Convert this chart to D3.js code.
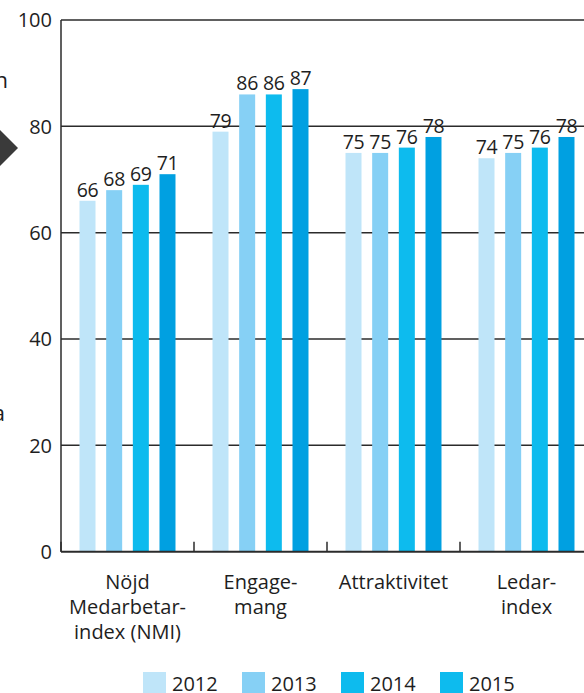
<!DOCTYPE html>
<html>
<head>
<meta charset="utf-8">
<script src="https://cdn.jsdelivr.net/npm/d3@7"></script>
<style>
  html, body { margin: 0; padding: 0; background: #fff; }
  svg { display: block; }
  text { font-family: "Open Sans", "Noto Sans", sans-serif; fill: #1e1e1e; }
</style>
</head>
<body>
<svg id="chart" width="584" height="693"></svg>
<script>
// ---- data ----
const categories = [
  ["Nöjd", "Medarbetar-", "index (NMI)"],
  ["Engage-", "mang"],
  ["Attraktivitet"],
  ["Ledar-", "index"]
];
const categoryKeys = ["NMI", "Engagemang", "Attraktivitet", "Ledarindex"];
const years = ["2012", "2013", "2014", "2015"];
const values2012 = [66, 79, 75, 74];
const values2013 = [68, 86, 75, 75];
const values2014 = [69, 86, 76, 76];
const values2015 = [71, 87, 78, 78];
const yTicks = [0, 20, 40, 60, 80, 100];
const colors = ["#bfe5f9", "#86d0f5", "#0dbbee", "#00a0e1"];
// legend swatches as printed in the reference (2015 swatch shares the 2014 tone)
const legendColors = ["#bfe5f9", "#86d0f5", "#0dbbee", "#0dbbee"];

const seriesValues = [values2012, values2013, values2014, values2015];

// ---- layout ----
const svg = d3.select("#chart");
const W = 584;
const plotLeft = 61, plotRight = 593, plotTop = 20, plotBottom = 551.7;

const x0 = d3.scaleBand().domain(categoryKeys).range([plotLeft, plotRight]).padding(0);
const x1 = d3.scaleBand().domain(years).range([0, x0.bandwidth()])
  .paddingInner(0.4).paddingOuter(0.694);
const y = d3.scaleLinear().domain([0, 100]).range([plotBottom, plotTop]);
const color = d3.scaleOrdinal().domain(years).range(colors);
const legendColor = d3.scaleOrdinal().domain(years).range(legendColors);

// gridlines
svg.append("g").selectAll("line").data(yTicks.filter(d => d > 0)).join("line")
  .attr("x1", plotLeft).attr("x2", W)
  .attr("y1", d => y(d)).attr("y2", d => y(d))
  .attr("stroke", "#2b2b2b").attr("stroke-width", 1.5);

// y axis line
svg.append("line")
  .attr("x1", plotLeft).attr("x2", plotLeft)
  .attr("y1", y(100)).attr("y2", y(0))
  .attr("stroke", "#2b2b2b").attr("stroke-width", 1.5);

// y tick labels
svg.append("g").selectAll("text").data(yTicks).join("text")
  .attr("x", 52).attr("y", d => y(d))
  .attr("dy", "0.36em")
  .attr("text-anchor", "end")
  .style("font-size", "20px")
  .text(d => d);

// bars
const rows = [];
categoryKeys.forEach((c, i) => {
  years.forEach((yr, j) => rows.push({ cat: c, year: yr, value: seriesValues[j][i] }));
});

svg.append("g").selectAll("rect").data(rows).join("rect")
  .attr("x", d => x0(d.cat) + x1(d.year))
  .attr("width", x1.bandwidth())
  .attr("y", d => y(d.value))
  .attr("height", d => y(0) - y(d.value))
  .attr("fill", d => color(d.year));

// baseline
svg.append("line")
  .attr("x1", plotLeft).attr("x2", W)
  .attr("y1", y(0)).attr("y2", y(0))
  .attr("stroke", "#2b2b2b").attr("stroke-width", 2);

// category boundary ticks
svg.append("g").selectAll("line").data(categoryKeys).join("line")
  .attr("x1", d => x0(d)).attr("x2", d => x0(d))
  .attr("y1", y(0) - 10).attr("y2", y(0))
  .attr("stroke", "#2b2b2b").attr("stroke-width", 1.5);

// value labels
svg.append("g").selectAll("text").data(rows).join("text")
  .attr("x", d => x0(d.cat) + x1(d.year) + x1.bandwidth() / 2)
  .attr("y", d => y(d.value) - 4)
  .attr("text-anchor", "middle")
  .style("font-size", "19.5px")
  .style("letter-spacing", "-0.3px")
  .text(d => d.value);

// category labels
categoryKeys.forEach((c, i) => {
  const t = svg.append("text")
    .attr("x", x0(c) + x0.bandwidth() / 2)
    .attr("y", 589)
    .attr("text-anchor", "middle")
    .style("font-size", "20px");
  categories[i].forEach((line, k) => {
    t.append("tspan")
      .attr("x", x0(c) + x0.bandwidth() / 2)
      .attr("dy", k === 0 ? 0 : 25)
      .text(line);
  });
});

// legend
const lx = d3.scalePoint().domain(years).range([143, 440]);
const legend = svg.append("g").selectAll("g").data(years).join("g")
  .attr("transform", d => `translate(${lx(d)},672)`);
legend.append("rect").attr("width", 23).attr("height", 23).attr("fill", d => legendColor(d));
legend.append("text").attr("x", 29).attr("y", 19)
  .style("font-size", "20px").text(d => d);

// cropped neighbouring page elements at the left edge
svg.append("text").attr("x", 8).attr("y", 88).attr("text-anchor", "end")
  .style("font-size", "22px").text("n");
svg.append("text").attr("x", 5).attr("y", 421).attr("text-anchor", "end")
  .style("font-size", "22px").text("a");
svg.append("path")
  .attr("d", d3.line()([[0, 130], [18, 148], [0, 166]]) + "Z")
  .attr("fill", "#3a3a3a");
</script>
</body>
</html>
